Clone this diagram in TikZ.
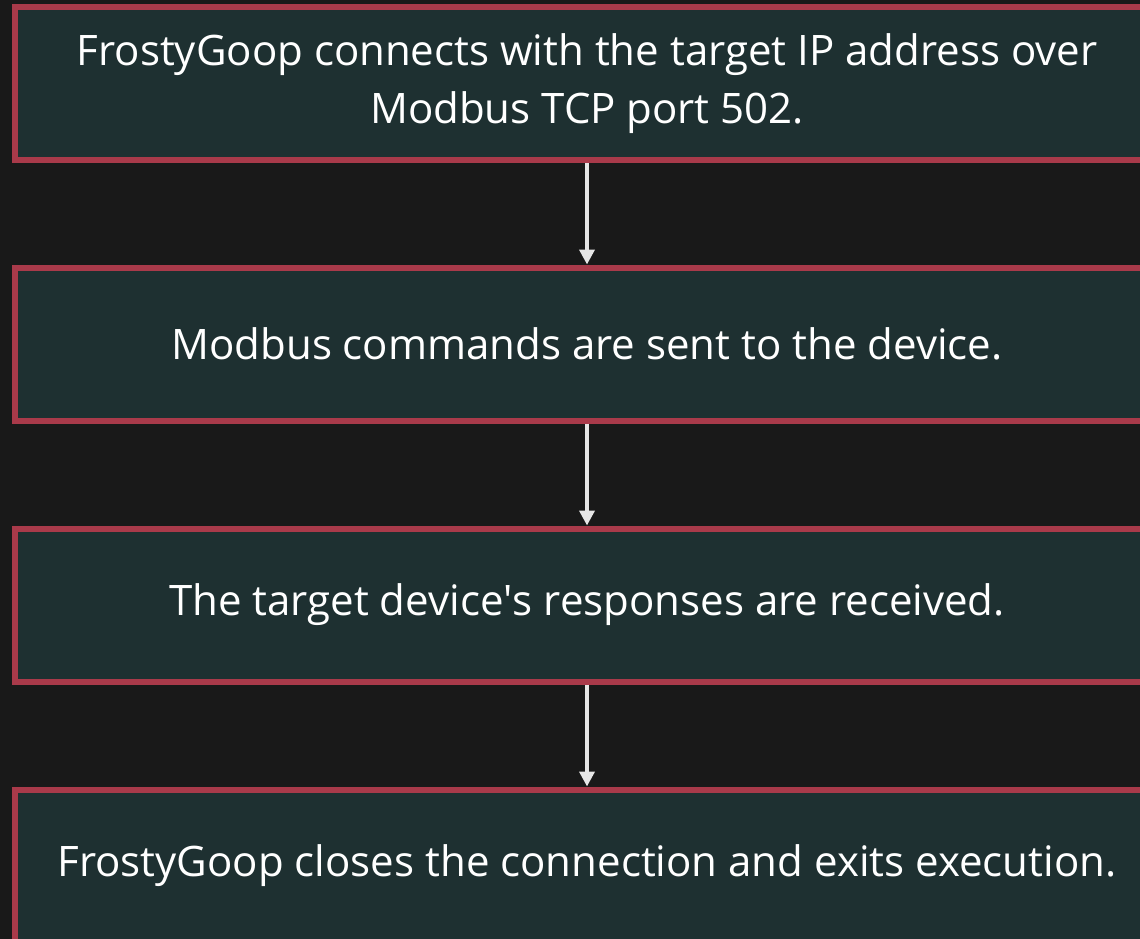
\documentclass[tikz,border=0pt]{standalone}
\usepackage{fontspec}
\setmainfont{Open Sans}
\newfontfamily\nomapfont{Open Sans}[Ligatures=TeXOff]
\usetikzlibrary{arrows.meta}
\definecolor{bg}{HTML}{191919}
\definecolor{boxfill}{HTML}{1E3031}
\definecolor{boxline}{HTML}{A93A4A}
\definecolor{arrowcol}{HTML}{E6E6E6}
\begin{document}
\begin{tikzpicture}[x=1pt,y=1pt,
  stepbox/.style={draw=boxline, fill=boxfill, line width=6pt, minimum width=1144pt, minimum height=153pt, inner sep=0pt, align=center, text=white, font=\fontsize{42}{58}\selectfont},
  flow/.style={draw=arrowcol, line width=4.5pt, -{Triangle[width=15pt,length=15pt]}}]
\useasboundingbox[fill=bg] (0,0) rectangle (1140,-939);
\node[stepbox] (b1) at (587,-83.5) {FrostyGoop connects with the target IP address over\\Modbus TCP port 502.};
\node[stepbox] (b2) at (587,-344) {Modbus commands are sent to the device.};
\node[stepbox] (b3) at (587,-605) {The target device{\nomapfont'}s responses are received.};
\node[stepbox] (b4) at (587,-866) {FrostyGoop closes the connection and exits execution.};
\draw[flow] (b1.south) -- (b2.north);
\draw[flow] (b2.south) -- (b3.north);
\draw[flow] (b3.south) -- (b4.north);
\end{tikzpicture}
\end{document}
